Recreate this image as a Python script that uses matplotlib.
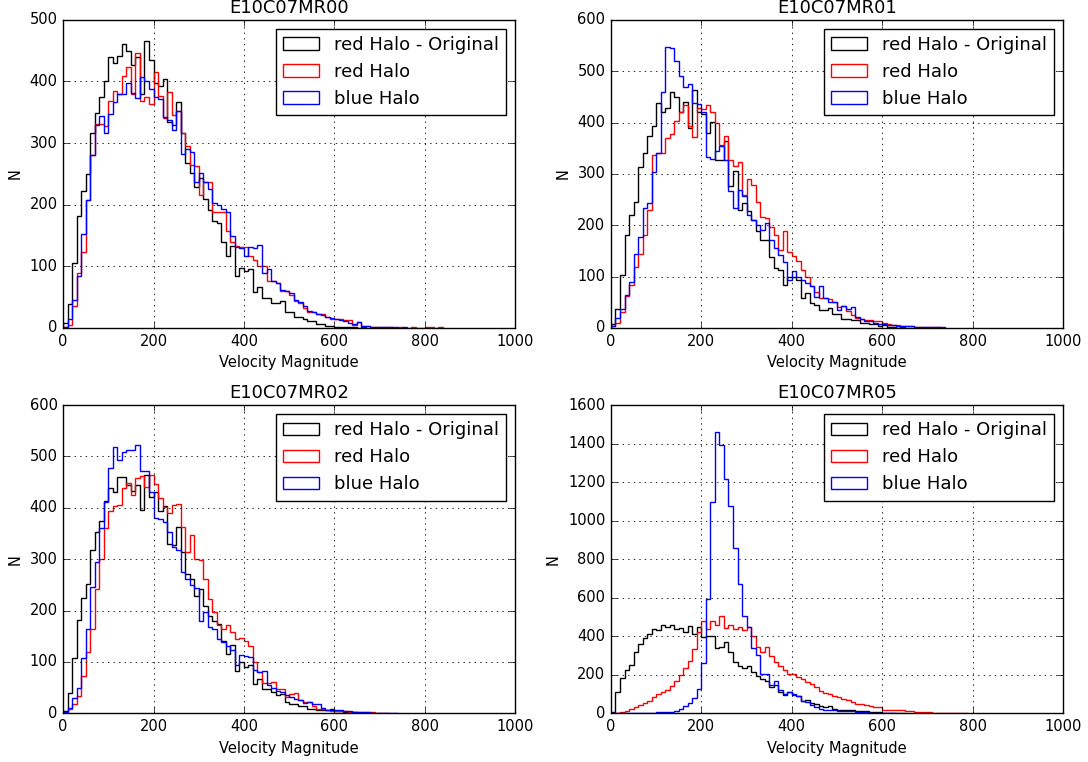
import numpy as np
import matplotlib
matplotlib.use('Agg')
import matplotlib.pyplot as plt

# counts per 10-unit velocity bin
titles = ['E10C07MR00', 'E10C07MR01', 'E10C07MR02', 'E10C07MR05']
labels = ['red Halo - Original', 'red Halo', 'blue Halo']
ymax = [500, 600, 600, 1600]

mr00_orig = [8, 39, 105, 182, 222, 250, 316, 349, 374, 400, 440, 430, 441, 461, 449, 426, 440, 380, 466, 434,
             398, 393, 404, 335, 330, 366, 316, 267, 251, 229, 243, 210, 191, 173, 170, 139, 117, 133, 84, 98,
             92, 96, 58, 67, 48, 48, 40, 40, 43, 26, 26, 18, 18, 15, 11, 11, 7, 7, 3, 4,
             2, 2, 1, 1, 1, 0, 1]
mr00_red = [2, 5, 35, 90, 124, 207, 281, 331, 331, 327, 368, 385, 379, 409, 423, 379, 446, 368, 375, 363,
            415, 376, 341, 383, 346, 352, 316, 295, 264, 263, 215, 237, 237, 188, 188, 188, 158, 139, 133, 131,
            131, 117, 110, 100, 100, 77, 77, 73, 60, 60, 54, 43, 40, 33, 26, 26, 22, 22, 18, 15,
            14, 14, 13, 13, 5, 10, 4, 4, 2, 2, 2, 1, 1, 0, 1, 0, 0, 1, 0, 0,
            1, 1, 0, 1]
mr00_blue = [2, 14, 45, 84, 152, 207, 281, 330, 344, 316, 347, 366, 379, 379, 397, 382, 373, 407, 401, 387,
             375, 371, 342, 338, 322, 352, 282, 291, 286, 237, 252, 237, 226, 202, 200, 193, 188, 149, 131, 129,
             117, 131, 130, 135, 89, 96, 77, 73, 62, 60, 56, 45, 42, 35, 28, 26, 22, 21, 18, 16,
             14, 13, 12, 8, 6, 10, 4, 3, 2, 2, 1, 1, 1, 1, 0, 1]

mr01_orig = [8, 37, 103, 181, 220, 246, 314, 341, 373, 393, 439, 420, 429, 459, 449, 420, 440, 390, 464, 421,
             416, 380, 402, 328, 328, 364, 276, 305, 230, 243, 227, 210, 188, 171, 171, 139, 116, 112, 83, 99,
             100, 94, 58, 68, 48, 45, 35, 35, 39, 28, 28, 18, 18, 15, 15, 10, 10, 7, 7, 4,
             5, 1, 1, 0, 1]
mr01_red = [3, 9, 31, 63, 83, 119, 145, 181, 230, 336, 341, 340, 369, 377, 403, 420, 434, 393, 372, 429,
            427, 434, 420, 400, 357, 374, 328, 315, 323, 259, 290, 279, 246, 217, 214, 197, 181, 151, 188, 148,
            140, 130, 112, 100, 81, 71, 59, 58, 56, 50, 41, 43, 33, 25, 20, 18, 15, 15, 13, 13,
            10, 7, 5, 5, 3, 3, 3, 2, 2, 2, 2, 1, 1]
mr01_blue = [3, 20, 37, 65, 90, 145, 178, 233, 243, 303, 341, 459, 547, 545, 519, 491, 469, 475, 439, 436,
             420, 333, 329, 344, 354, 328, 266, 233, 269, 257, 220, 210, 201, 191, 204, 171, 155, 142, 129, 93,
             110, 99, 93, 87, 81, 61, 81, 58, 51, 51, 35, 43, 37, 41, 22, 18, 13, 13, 10, 7,
             7, 5, 5, 3, 3, 4, 4, 2, 2, 1, 1, 1, 1, 1]

mr02_orig = [5, 40, 107, 182, 224, 252, 317, 353, 374, 413, 439, 430, 459, 459, 444, 433, 444, 395, 463, 421,
             431, 393, 404, 330, 328, 363, 314, 272, 262, 229, 242, 208, 190, 180, 174, 141, 115, 133, 83, 99,
             90, 94, 57, 66, 48, 48, 42, 35, 37, 22, 18, 18, 15, 15, 9, 9, 7, 7, 6, 8,
             5, 4, 3, 3, 2, 1, 1]
mr02_red = [1, 8, 18, 34, 73, 120, 164, 242, 301, 361, 393, 404, 405, 439, 448, 425, 457, 461, 441, 464,
            446, 420, 402, 389, 406, 408, 363, 314, 347, 301, 298, 262, 223, 197, 171, 164, 172, 158, 145, 146,
            140, 130, 100, 81, 59, 59, 61, 48, 48, 32, 38, 40, 25, 22, 22, 14, 9, 9, 6, 5,
            5, 4, 4, 3, 3, 2, 2, 2, 2, 1, 1, 1]
mr02_blue = [3, 11, 29, 50, 107, 164, 246, 294, 360, 412, 477, 519, 493, 509, 513, 513, 522, 472, 472, 431,
             380, 378, 373, 353, 324, 317, 275, 262, 250, 244, 180, 197, 167, 164, 145, 138, 130, 124, 93, 113,
             111, 110, 84, 81, 83, 55, 50, 44, 42, 35, 32, 27, 25, 20, 22, 18, 18, 10, 7, 7,
             6, 6, 4, 4, 3, 3, 3, 3, 1, 1, 1, 1, 1, 1]

mr05_orig = [7, 108, 181, 226, 250, 317, 360, 390, 412, 438, 430, 456, 450, 459, 438, 442, 421, 452, 412, 450,
             395, 403, 400, 337, 343, 369, 317, 264, 247, 233, 247, 212, 195, 177, 169, 134, 146, 111, 94, 108,
             94, 88, 62, 68, 54, 47, 36, 33, 36, 24, 19, 19, 16, 16, 10, 10, 10, 7, 7, 7,
             3, 3, 2, 1, 1]
mr05_red = [0, 3, 7, 12, 21, 30, 42, 52, 64, 82, 99, 108, 122, 139, 169, 198, 233, 273, 334, 421,
            477, 438, 477, 459, 504, 442, 456, 438, 447, 430, 447, 403, 343, 317, 343, 299, 268, 247, 226, 203,
            205, 189, 180, 163, 151, 137, 116, 106, 99, 92, 85, 76, 68, 59, 50, 47, 42, 38, 33, 33,
            19, 19, 16, 16, 16, 10, 10, 7, 7, 5, 5, 3, 3, 3, 3, 2, 2, 1, 1]
mr05_blue = [0, 0, 0, 0, 1, 1, 2, 2, 3, 3, 4, 5, 7, 7, 12, 21, 35, 52, 77, 125,
             261, 595, 1099, 1461, 1395, 1217, 1077, 856, 673, 504, 447, 337, 303, 203, 203, 146, 169, 122, 99, 108,
             98, 88, 65, 59, 42, 33, 24, 19, 19, 16, 14, 12, 9, 9, 7, 7, 5, 3, 3, 2,
             2, 1, 1]

panels = [
    (mr00_orig, mr00_red, mr00_blue),
    (mr01_orig, mr01_red, mr01_blue),
    (mr02_orig, mr02_red, mr02_blue),
    (mr05_orig, mr05_red, mr05_blue),
]
colors = ['k', 'r', 'b']

plt.style.use('classic')
plt.rcParams['font.family'] = ['DejaVu Sans']

fig, axes = plt.subplots(2, 2, figsize=(10.88, 7.62), dpi=100)
fig.patch.set_facecolor('white')
fig.subplots_adjust(left=0.058, right=0.977, top=0.974, bottom=0.064, wspace=0.212, hspace=0.25)

for ax, title, series, ym in zip(axes.flat, titles, panels, ymax):
    for vals, col, lab in zip(series, colors, labels):
        edges = np.arange(len(vals) + 1) * 10.0
        centers = edges[:-1] + 5.0
        ax.hist(centers, bins=edges, weights=vals, histtype='step', color=col, label=lab, linewidth=1.0)
    ax.set_xlim(0, 1000)
    ax.set_ylim(0, ym)
    ax.set_xticks(np.arange(0, 1001, 200))
    ax.grid(True, linestyle=':', color='k', linewidth=0.6)
    ax.set_title(title, fontsize=13)
    ax.set_xlabel('Velocity Magnitude', fontsize=10.5)
    ax.set_ylabel('N', fontsize=10.5)
    ax.tick_params(labelsize=10.5)
    ax.legend(loc='upper right', fontsize=13, fancybox=False, handlelength=2.0)

fig.savefig('out.png', dpi=100, facecolor='white')
